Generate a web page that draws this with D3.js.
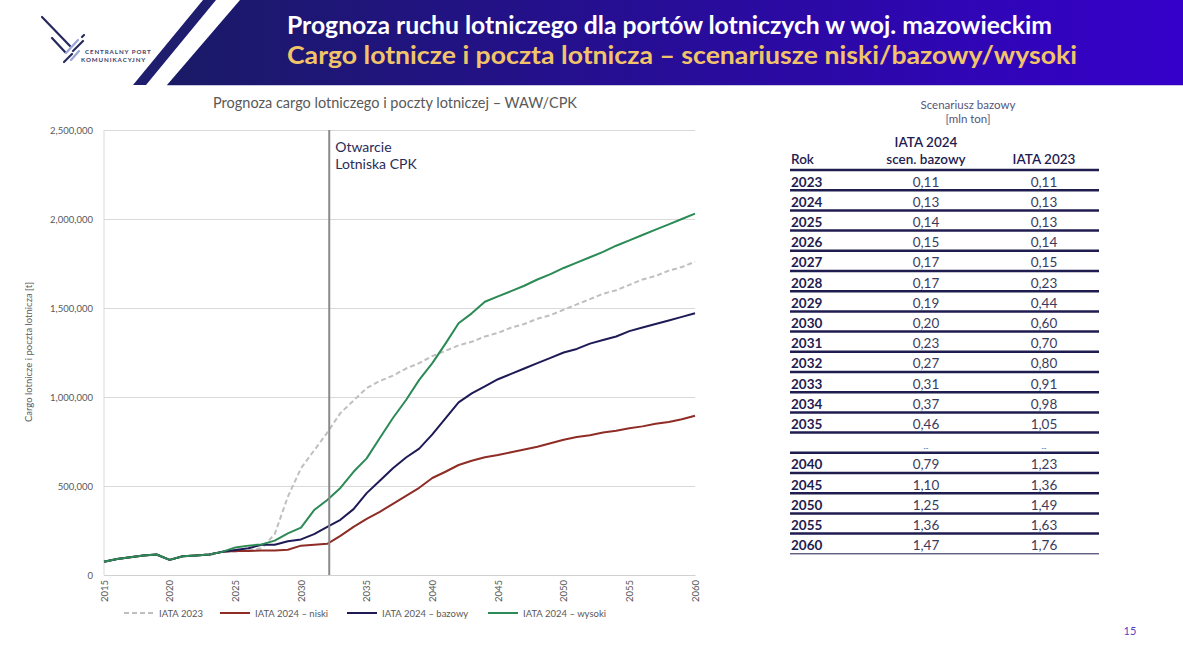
<!DOCTYPE html>
<html>
<head>
<meta charset="utf-8">
<script src="https://cdn.jsdelivr.net/npm/d3@7"></script>
<style>
  body { margin: 0; background: #fff; }
  svg { display: block; font-family: Lato, "Noto Sans", sans-serif; }
</style>
</head>
<body>
<svg id="root" width="1183" height="664" viewBox="0 0 1183 664" xmlns="http://www.w3.org/2000/svg"></svg>
<script>
// chart data (tonnes)
var years = d3.range(2015, 2061);
var iata2023 = [null, null, null, null, null, null, null, null,
  110000, 130000, 130000, 140000, 150000, 230000, 440000, 600000, 700000, 800000, 910000, 980000, 1050000,
  1090000, 1120000, 1160000, 1190000, 1230000, 1260000, 1290000, 1310000, 1340000, 1360000,
  1390000, 1410000, 1440000, 1460000, 1490000, 1520000, 1550000, 1580000, 1600000, 1630000,
  1660000, 1680000, 1710000, 1730000, 1760000];
var niski = [75000, 90000, 100000, 110000, 115000, 85000, 105000, 110000, 115000,
  130000, 135000, 135000, 138000, 138000, 142000, 165000, 170000, 175000, 220000, 270000, 315000,
  355000, 400000, 445000, 490000, 545000, 580000, 618000, 642000, 661000, 674000,
  690000, 705000, 720000, 740000, 760000, 775000, 785000, 800000, 810000, 825000,
  835000, 850000, 860000, 875000, 895000];
var bazowy = [75000, 90000, 100000, 110000, 115000, 85000, 105000, 110000, 115000,
  130000, 140000, 150000, 170000, 170000, 190000, 200000, 230000, 270000, 310000, 370000, 460000,
  530000, 600000, 660000, 710000, 790000, 880000, 970000, 1020000, 1060000, 1100000,
  1130000, 1160000, 1190000, 1220000, 1250000, 1270000, 1300000, 1320000, 1340000, 1370000,
  1390000, 1410000, 1430000, 1450000, 1470000];
var wysoki = [75000, 90000, 100000, 110000, 115000, 85000, 105000, 110000, 115000,
  130000, 155000, 165000, 172000, 193000, 234000, 266000, 365000, 421000, 489000, 580000, 655000,
  770000, 882000, 983000, 1096000, 1190000, 1300000, 1414000, 1470000, 1535000, 1565000,
  1595000, 1625000, 1660000, 1690000, 1725000, 1755000, 1785000, 1815000, 1850000, 1880000,
  1910000, 1940000, 1970000, 2000000, 2030000];
var yTicks = [0, 500000, 1000000, 1500000, 2000000, 2500000];
var xTicks = [2015, 2020, 2025, 2030, 2035, 2040, 2045, 2050, 2055, 2060];
var openingYear = 2032.15;

// table data (mln ton)
var tableYears = ["2023", "2024", "2025", "2026", "2027", "2028", "2029", "2030", "2031", "2032",
  "2033", "2034", "2035", "", "2040", "2045", "2050", "2055", "2060"];
var tableBase = ["0,11", "0,13", "0,14", "0,15", "0,17", "0,17", "0,19", "0,20", "0,23", "0,27",
  "0,31", "0,37", "0,46", "...", "0,79", "1,10", "1,25", "1,36", "1,47"];
var table2023 = ["0,11", "0,13", "0,13", "0,14", "0,15", "0,23", "0,44", "0,60", "0,70", "0,80",
  "0,91", "0,98", "1,05", "...", "1,23", "1,36", "1,49", "1,63", "1,76"];

var series = [
  { name: "IATA 2023", values: iata2023, color: "#bfbfbf", dash: "5,3" },
  { name: "IATA 2024  \u2013 niski", values: niski, color: "#8e2c25", dash: null },
  { name: "IATA 2024  \u2013 bazowy", values: bazowy, color: "#1d1a56", dash: null },
  { name: "IATA 2024  \u2013 wysoki", values: wysoki, color: "#2b8a55", dash: null }
];

var svg = d3.select("#root");
var defs = svg.append("defs");
var grad = defs.append("linearGradient").attr("id", "band").attr("x1", 0).attr("x2", 1);
grad.append("stop").attr("offset", "0%").attr("stop-color", "#1a1a66");
grad.append("stop").attr("offset", "100%").attr("stop-color", "#3500ca");

// ---- header ----
var head = svg.append("g");
head.append("path").attr("d", "M203,0 L216,0 L146,85 L133,85 Z").attr("fill", "#1f1d6e");
head.append("path").attr("d", "M240,0 L1183,0 L1183,85 L167,85 Z").attr("fill", "url(#band)");
head.append("line").attr("x1", 167).attr("x2", 1183).attr("y1", 85.5).attr("y2", 85.5)
  .attr("stroke", "#c9c6e0").attr("stroke-width", 1);

// logo strokes
var logo = head.append("g").attr("stroke-linecap", "round");
[[42, 17, 70, 46, "#27285e"], [52, 38, 65, 52, "#27285e"], [64, 62, 72, 54, "#27285e"],
 [73, 51, 83, 41, "#27285e"], [82, 37, 84, 35, "#27285e"], [66, 53, 78, 40, "#9aa6d6"],
 [71, 60, 79, 51, "#9aa6d6"]].forEach(function(s) {
  logo.append("line").attr("x1", s[0]).attr("y1", s[1]).attr("x2", s[2]).attr("y2", s[3])
    .attr("stroke", s[4]).attr("stroke-width", 2.2);
});
head.append("text").attr("x", 85).attr("y", 54).attr("font-size", 6.2).attr("font-weight", 700)
  .attr("fill", "#3c3d6a").attr("letter-spacing", 0.9).text("CENTRALNY PORT");
head.append("text").attr("x", 81).attr("y", 62).attr("font-size", 6.2).attr("font-weight", 700)
  .attr("fill", "#3c3d6a").attr("letter-spacing", 0.9).text("KOMUNIKACYJNY");

head.append("text").attr("x", 287).attr("y", 34).attr("font-size", 24).attr("font-weight", 700)
  .attr("fill", "#ffffff").attr("textLength", 765).attr("lengthAdjust", "spacingAndGlyphs")
  .text("Prognoza ruchu lotniczego dla portów lotniczych w woj. mazowieckim");
head.append("text").attr("x", 287).attr("y", 64).attr("font-size", 24).attr("font-weight", 700)
  .attr("fill", "#f2c46a").attr("textLength", 790).attr("lengthAdjust", "spacingAndGlyphs")
  .text("Cargo lotnicze i poczta lotnicza \u2013 scenariusze niski/bazowy/wysoki");

// ---- chart ----
var x = d3.scaleLinear().domain([2015, 2060]).range([104, 695]);
var y = d3.scaleLinear().domain([0, 2500000]).range([575, 130]);
var chart = svg.append("g");

chart.append("text").attr("x", 395).attr("y", 108).attr("text-anchor", "middle")
  .attr("font-size", 14.5).attr("fill", "#595959")
  .text("Prognoza cargo lotniczego i poczty lotniczej \u2013 WAW/CPK");

var yAxis = chart.append("g").attr("transform", "translate(104,0)")
  .call(d3.axisLeft(y).tickValues(yTicks).tickSize(-(695 - 104)).tickPadding(11)
    .tickFormat(d3.format(",")));
yAxis.select(".domain").remove();
yAxis.selectAll("line").attr("stroke", "#d9d9d9");
yAxis.selectAll("text").attr("font-size", 9.5).attr("fill", "#595959")
  .attr("font-family", "Lato, sans-serif");

chart.append("line").attr("x1", 104).attr("x2", 104).attr("y1", 130).attr("y2", 575)
  .attr("stroke", "#d9d9d9");

var xAxis = chart.append("g").attr("transform", "translate(0,575)")
  .call(d3.axisBottom(x).tickValues(xTicks).tickSize(0).tickFormat(d3.format("d")));
xAxis.select(".domain").attr("stroke", "#d0d0d0");
xAxis.selectAll("text").attr("font-size", 9.5).attr("fill", "#595959")
  .attr("font-family", "Lato, sans-serif")
  .attr("transform", "rotate(-90)").attr("text-anchor", "end")
  .attr("x", -5).attr("y", 0).attr("dy", "0.35em");

chart.append("text").attr("transform", "translate(32,352) rotate(-90)").attr("text-anchor", "middle")
  .attr("font-size", 9.5).attr("fill", "#595959").text("Cargo lotnicze i poczta lotnicza [t]");

var line = d3.line()
  .defined(function(d) { return d[1] != null; })
  .x(function(d) { return x(d[0]); })
  .y(function(d) { return y(d[1]); });

chart.selectAll(".series").data(series).enter().append("path")
  .attr("class", "series")
  .attr("fill", "none")
  .attr("stroke", function(d) { return d.color; })
  .attr("stroke-width", 2)
  .attr("stroke-dasharray", function(d) { return d.dash; })
  .attr("stroke-linejoin", "round")
  .attr("d", function(d) { return line(years.map(function(yr, i) { return [yr, d.values[i]]; })); });

chart.append("line").attr("x1", x(openingYear)).attr("x2", x(openingYear))
  .attr("y1", y(2500000)).attr("y2", y(0)).attr("stroke", "#8a8a8a").attr("stroke-width", 2);
chart.append("text").attr("x", x(openingYear) + 6).attr("y", 152).attr("font-size", 14)
  .attr("fill", "#2b2b55").text("Otwarcie");
chart.append("text").attr("x", x(openingYear) + 6).attr("y", 169).attr("font-size", 14)
  .attr("fill", "#2b2b55").text("Lotniska CPK");

// legend
var legendX = [124, 220, 347, 488];
var leg = chart.selectAll(".leg").data(series).enter().append("g")
  .attr("class", "leg")
  .attr("transform", function(d, i) { return "translate(" + legendX[i] + ",613)"; });
leg.append("line").attr("x1", 0).attr("x2", 30).attr("y1", 0).attr("y2", 0)
  .attr("stroke", function(d) { return d.color; }).attr("stroke-width", 2)
  .attr("stroke-dasharray", function(d) { return d.dash; });
leg.append("text").attr("x", 35).attr("y", 3.5).attr("font-size", 9.5).attr("fill", "#595959")
  .text(function(d) { return d.name; });

// ---- table ----
var tbl = svg.append("g");
var navy = "#1f1c4f";
tbl.append("text").attr("x", 968).attr("y", 109).attr("text-anchor", "middle")
  .attr("font-size", 11.5).attr("fill", "#55557a").text("Scenariusz bazowy");
tbl.append("text").attr("x", 968).attr("y", 123).attr("text-anchor", "middle")
  .attr("font-size", 11.5).attr("fill", "#55557a").text("[mln ton]");
tbl.append("text").attr("x", 926).attr("y", 147).attr("text-anchor", "middle")
  .attr("font-size", 13.5).attr("font-weight", 600).attr("fill", navy).text("IATA 2024");
tbl.append("text").attr("x", 926).attr("y", 164).attr("text-anchor", "middle")
  .attr("font-size", 13.5).attr("font-weight", 600).attr("fill", navy).text("scen. bazowy");
tbl.append("text").attr("x", 791).attr("y", 164)
  .attr("font-size", 13.5).attr("font-weight", 600).attr("fill", navy).text("Rok");
tbl.append("text").attr("x", 1044).attr("y", 164).attr("text-anchor", "middle")
  .attr("font-size", 13.5).attr("font-weight", 600).attr("fill", navy).text("IATA 2023");

var rowH = 20.2, top0 = 170;
tbl.append("line").attr("x1", 790).attr("x2", 1099).attr("y1", top0).attr("y2", top0)
  .attr("stroke", navy).attr("stroke-width", 2.5);
var rows = tbl.selectAll(".row").data(tableYears).enter().append("g")
  .attr("class", "row")
  .attr("transform", function(d, i) { return "translate(0," + (top0 + i * rowH) + ")"; });
rows.append("text").attr("x", 791).attr("y", 16.5).attr("font-size", 13.5).attr("font-weight", 700)
  .attr("fill", navy).text(function(d) { return d; });
rows.append("text").attr("x", 926).attr("y", 16.5).attr("text-anchor", "middle")
  .attr("font-size", function(d, i) { return tableBase[i] === "..." ? 7 : 13.5; })
  .attr("fill", "#3a3a5e").text(function(d, i) { return tableBase[i]; });
rows.append("text").attr("x", 1044).attr("y", 16.5).attr("text-anchor", "middle")
  .attr("font-size", function(d, i) { return table2023[i] === "..." ? 7 : 13.5; })
  .attr("fill", "#3a3a5e").text(function(d, i) { return table2023[i]; });
rows.append("line").attr("x1", 790).attr("x2", 1099).attr("y1", rowH).attr("y2", rowH)
  .attr("stroke", navy)
  .attr("stroke-width", function(d, i) { return i === tableYears.length - 1 ? 1 : 2.5; });

svg.append("text").attr("x", 1130).attr("y", 635).attr("text-anchor", "middle")
  .attr("font-size", 11).attr("fill", "#5a3fc0").text("15");
</script>
</body>
</html>
